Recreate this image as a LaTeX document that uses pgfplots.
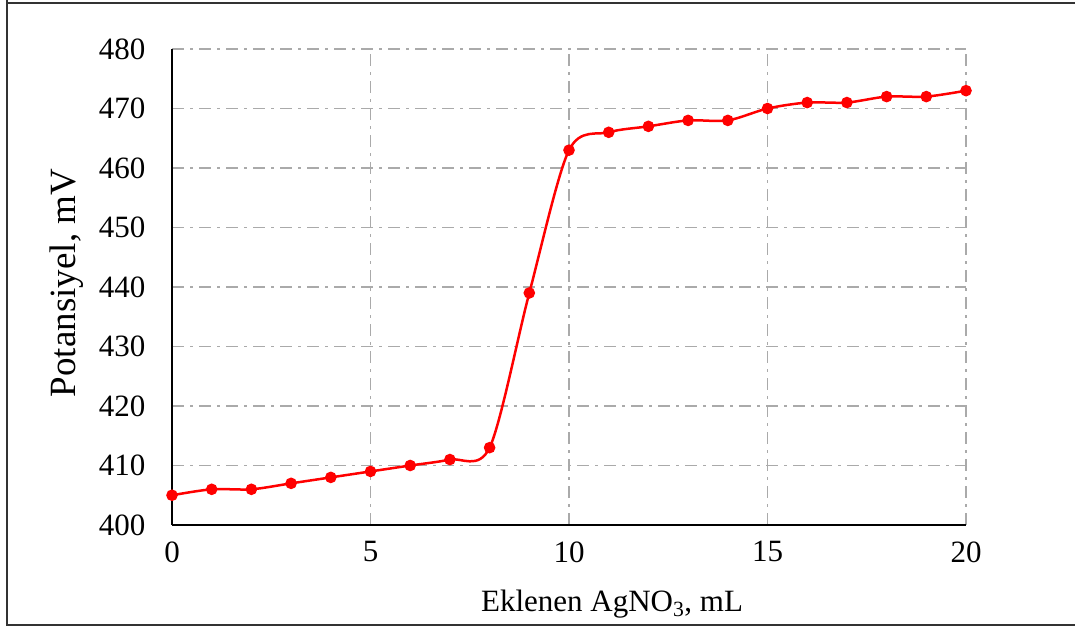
\documentclass[border=0pt]{standalone}
\usepackage{pgfplots}
\pgfplotsset{compat=1.18}
\usepackage{fontspec}
\setmainfont{Liberation Serif}
\definecolor{gridgray}{RGB}{170,170,170}
\begin{document}
\fontsize{31}{37}\selectfont
\begin{tikzpicture}[x=1pt,y=1pt]
\useasboundingbox (0,0) rectangle (1075,628);
\draw[line width=1.5pt,black!80] (7,628) -- (7,3) -- (1075,3);
\draw[line width=1.5pt,black!80] (7,625) -- (1075,625);
\begin{axis}[
  at={(172pt,103pt)}, anchor=south west,
  scale only axis, width=794pt, height=476pt,
  xmin=0, xmax=20, ymin=400, ymax=480,
  xtick={0,5,...,20}, ytick={400,410,...,480},
  axis x line*=bottom, axis y line*=left,
  x axis line style={-, line width=1.5pt},
  y axis line style={-, line width=1.5pt},
  tick style={draw=none},
  grid=major,
  major grid style={gridgray, line width=1.5pt, dash pattern=on 12pt off 6pt on 3pt off 6pt},
  ticklabel style={font=\fontsize{31}{37}\selectfont},
  /pgf/number format/assume math mode=true,
  xticklabel style={yshift=-6pt},
  yticklabel style={xshift=-16pt},
  xlabel={Eklenen AgNO\textsubscript{3}, mL},
  ylabel={Potansiyel, mV},
  xlabel style={font=\fontsize{31}{37}\selectfont, at={(axis description cs:0.5,0)}, anchor=north, xshift=43pt, yshift=-54pt},
  ylabel style={font=\fontsize{37}{44}\selectfont, at={(axis description cs:0,0.5)}, anchor=south, xshift=4pt, yshift=78pt},
  clip=false,
]
\addplot[red, line width=2.5pt, smooth, tension=0.5, mark=*, mark size=4.5pt, mark options={fill=red, draw=red}]
  coordinates {
  (0,405) (1,406) (2,406) (3,407) (4,408) (5,409) (6,410) (7,411) (8,413)
  (9,439) (10,463) (11,466) (12,467) (13,468) (14,468) (15,470) (16,471)
  (17,471) (18,472) (19,472) (20,473)
  };
\end{axis}
\end{tikzpicture}
\end{document}
